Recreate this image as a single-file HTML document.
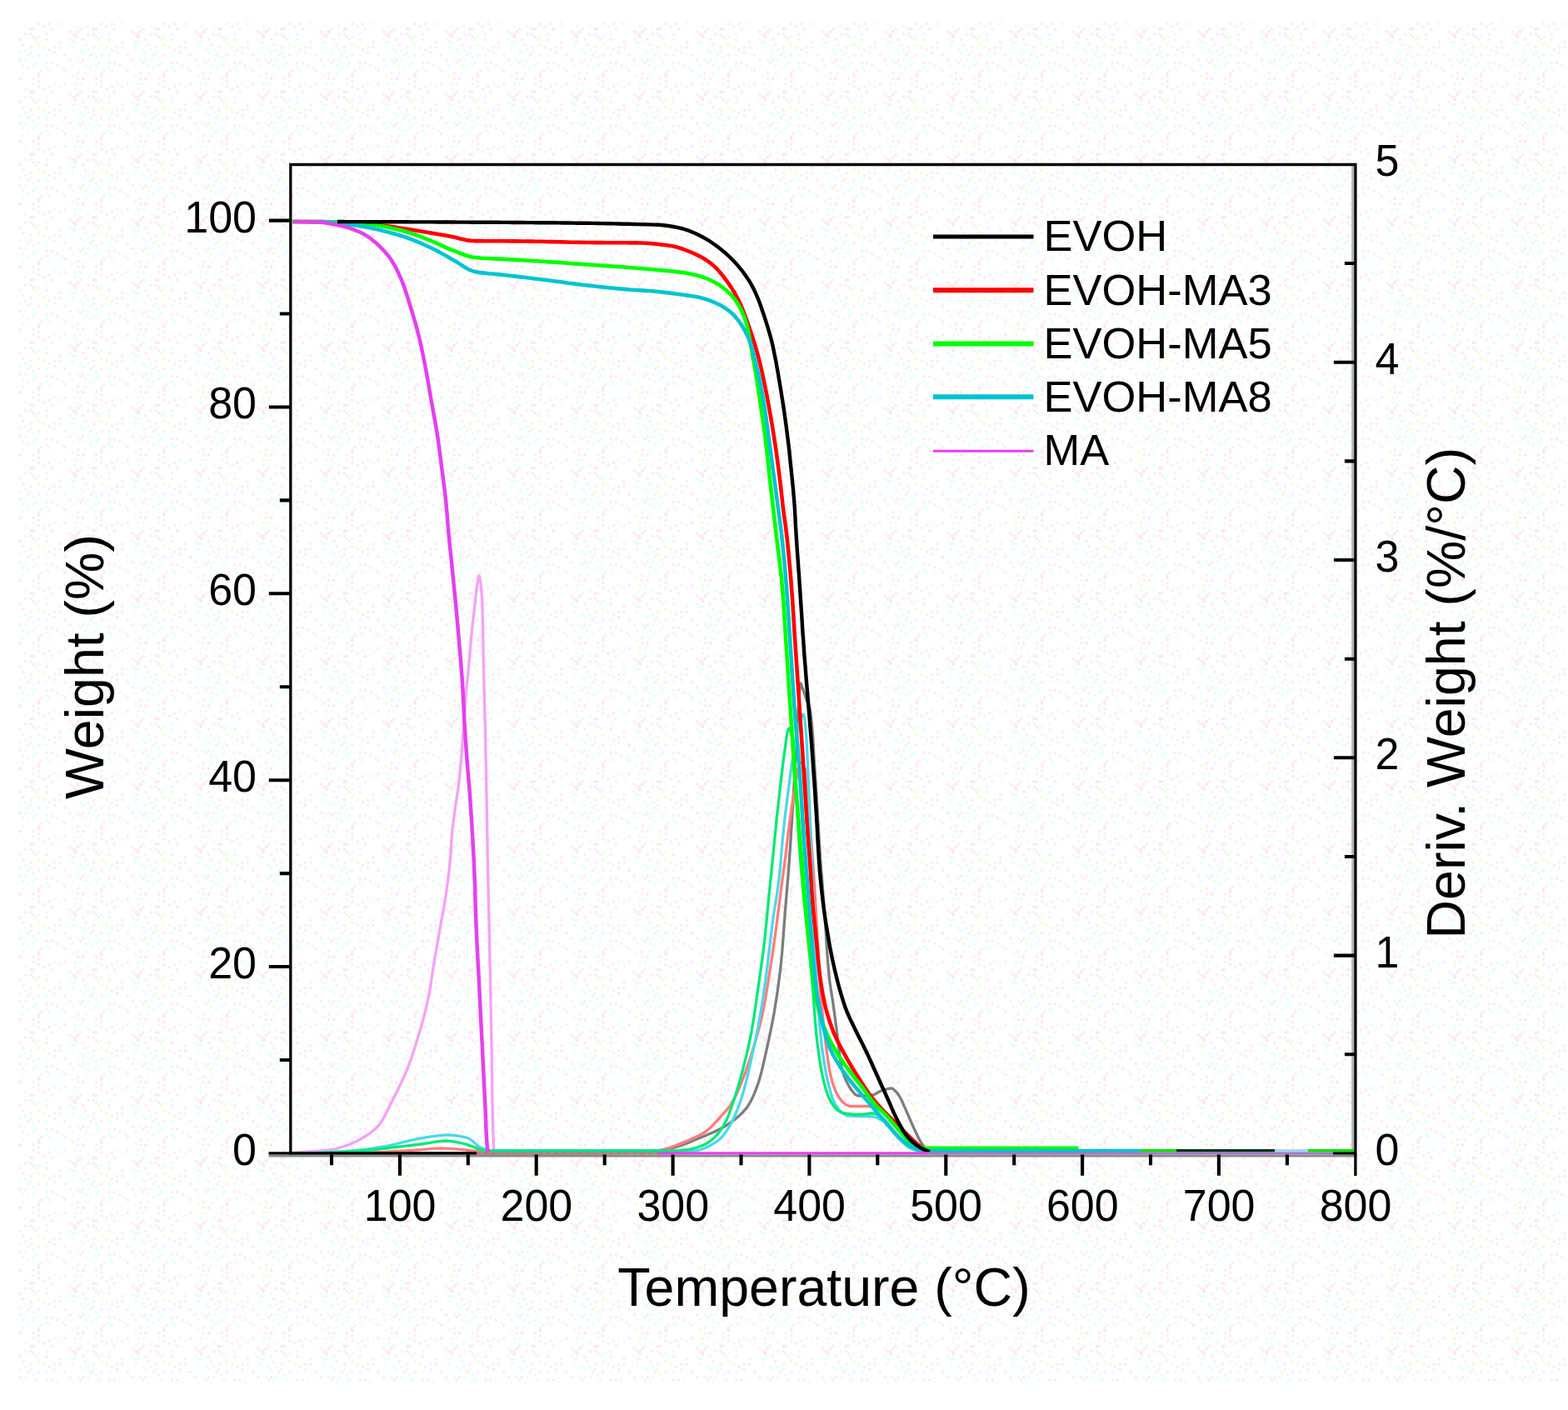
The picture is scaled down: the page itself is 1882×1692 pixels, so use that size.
<!DOCTYPE html>
<html lang="en"><head><meta charset="utf-8"><title>TGA / DTG curves</title>
<style>
html,body{margin:0;padding:0;background:#fff;}
body{width:1882px;height:1692px;overflow:hidden;}
svg{display:block;}
text{font-family:"Liberation Sans",sans-serif;fill:#000;}
.tk{font-size:52px;}
.lg{font-size:52.5px;}
.ti{font-size:64.5px;}
.c{fill:none;stroke-linejoin:round;stroke-linecap:butt;}
</style></head><body>
<svg width="1882" height="1692" viewBox="0 0 1882 1692">
<defs>
<pattern id="dots" x="23" y="27" width="75.26" height="75.26" patternUnits="userSpaceOnUse">
<rect x="15.68" y="40.77" width="3.14" height="3.14" fill="#e2ffff"/>
<rect x="62.72" y="28.22" width="3.14" height="3.14" fill="#e2ffff"/>
<rect x="18.82" y="47.04" width="3.14" height="3.14" fill="#e2ffff"/>
<rect x="15.68" y="50.18" width="3.14" height="3.14" fill="#e2ffff"/>
<rect x="21.95" y="0.00" width="3.14" height="3.14" fill="#f9eaf9"/>
<rect x="34.50" y="56.45" width="3.14" height="3.14" fill="#e2ffff"/>
<rect x="6.27" y="12.54" width="3.14" height="3.14" fill="#f9eaf9"/>
<rect x="21.95" y="68.99" width="3.14" height="3.14" fill="#f9eaf9"/>
<rect x="40.77" y="72.13" width="3.14" height="3.14" fill="#e2ffff"/>
<rect x="59.58" y="43.90" width="3.14" height="3.14" fill="#f9eaf9"/>
<rect x="31.36" y="53.31" width="3.14" height="3.14" fill="#e2ffff"/>
<rect x="68.99" y="9.41" width="3.14" height="3.14" fill="#ffe4dc"/>
<rect x="34.50" y="0.00" width="3.14" height="3.14" fill="#f9eaf9"/>
<rect x="72.13" y="6.27" width="3.14" height="3.14" fill="#f9eaf9"/>
<rect x="0.00" y="43.90" width="3.14" height="3.14" fill="#f9eaf9"/>
<rect x="53.31" y="72.13" width="3.14" height="3.14" fill="#f9eaf9"/>
<rect x="37.63" y="47.04" width="3.14" height="3.14" fill="#f9eaf9"/>
<rect x="15.68" y="65.86" width="3.14" height="3.14" fill="#f9eaf9"/>
<rect x="47.04" y="21.95" width="3.14" height="3.14" fill="#f9eaf9"/>
<rect x="18.82" y="18.82" width="3.14" height="3.14" fill="#edffd6"/>
<rect x="9.41" y="53.31" width="3.14" height="3.14" fill="#e2ffff"/>
<rect x="53.31" y="37.63" width="3.14" height="3.14" fill="#f9eaf9"/>
<rect x="31.36" y="12.54" width="3.14" height="3.14" fill="#e2ffff"/>
<rect x="40.77" y="28.22" width="3.14" height="3.14" fill="#f9eaf9"/>
<rect x="43.90" y="50.18" width="3.14" height="3.14" fill="#f9eaf9"/>
<rect x="31.36" y="47.04" width="3.14" height="3.14" fill="#f9eaf9"/>
<rect x="47.04" y="0.00" width="3.14" height="3.14" fill="#e2ffff"/>
<rect x="59.58" y="9.41" width="3.14" height="3.14" fill="#f9eaf9"/>
<rect x="65.86" y="15.68" width="3.14" height="3.14" fill="#ffe4dc"/>
<rect x="34.50" y="31.36" width="3.14" height="3.14" fill="#f9eaf9"/>
<rect x="15.68" y="6.27" width="3.14" height="3.14" fill="#f9eaf9"/>
<rect x="40.77" y="34.50" width="3.14" height="3.14" fill="#f9eaf9"/>
<rect x="65.86" y="3.14" width="3.14" height="3.14" fill="#e2ffff"/>
<rect x="65.86" y="21.95" width="3.14" height="3.14" fill="#e2ffff"/>
<rect x="15.68" y="72.13" width="3.14" height="3.14" fill="#edffd6"/>
<rect x="0.00" y="34.50" width="3.14" height="3.14" fill="#e2ffff"/>
<rect x="21.95" y="15.68" width="3.14" height="3.14" fill="#e2ffff"/>
<rect x="6.27" y="43.90" width="3.14" height="3.14" fill="#e2ffff"/>
<rect x="72.13" y="47.04" width="3.14" height="3.14" fill="#f9eaf9"/>
<rect x="28.22" y="3.14" width="3.14" height="3.14" fill="#f9eaf9"/>
<rect x="37.63" y="6.27" width="3.14" height="3.14" fill="#f9eaf9"/>
<rect x="62.72" y="12.54" width="3.14" height="3.14" fill="#f9eaf9"/>
<rect x="72.13" y="72.13" width="3.14" height="3.14" fill="#e2ffff"/>
<rect x="3.14" y="25.09" width="3.14" height="3.14" fill="#f9eaf9"/>
<rect x="62.72" y="50.18" width="3.14" height="3.14" fill="#e2ffff"/>
<rect x="0.00" y="18.82" width="3.14" height="3.14" fill="#f9eaf9"/>
<rect x="12.54" y="34.50" width="3.14" height="3.14" fill="#edffd6"/>
<rect x="47.04" y="28.22" width="3.14" height="3.14" fill="#f9eaf9"/>
<rect x="53.31" y="56.45" width="3.14" height="3.14" fill="#f9eaf9"/>
<rect x="65.86" y="12.54" width="3.14" height="3.14" fill="#f9eaf9"/>
<rect x="25.09" y="56.45" width="3.14" height="3.14" fill="#f9eaf9"/>
<rect x="62.72" y="21.95" width="3.14" height="3.14" fill="#edffd6"/>
<rect x="12.54" y="12.54" width="3.14" height="3.14" fill="#f9eaf9"/>
<rect x="9.41" y="37.63" width="3.14" height="3.14" fill="#f9eaf9"/>
<rect x="12.54" y="6.27" width="3.14" height="3.14" fill="#ffe4dc"/>
<rect x="31.36" y="37.63" width="3.14" height="3.14" fill="#e2ffff"/>
<rect x="21.95" y="59.58" width="3.14" height="3.14" fill="#f9eaf9"/>
<rect x="15.68" y="15.68" width="3.14" height="3.14" fill="#f9eaf9"/>
<rect x="3.14" y="59.58" width="3.14" height="3.14" fill="#e2ffff"/>
<rect x="68.99" y="59.58" width="3.14" height="3.14" fill="#f9eaf9"/>
<rect x="12.54" y="28.22" width="3.14" height="3.14" fill="#f9eaf9"/>
<rect x="50.18" y="53.31" width="3.14" height="3.14" fill="#e2ffff"/>
<rect x="3.14" y="50.18" width="3.14" height="3.14" fill="#edffd6"/>
<rect x="72.13" y="31.36" width="3.14" height="3.14" fill="#e2ffff"/>
<rect x="28.22" y="28.22" width="3.14" height="3.14" fill="#edffd6"/>
<rect x="31.36" y="18.82" width="3.14" height="3.14" fill="#f9eaf9"/>
<rect x="6.27" y="31.36" width="3.14" height="3.14" fill="#e2ffff"/>
<rect x="0.00" y="65.86" width="3.14" height="3.14" fill="#ffe4dc"/>
<rect x="68.99" y="43.90" width="3.14" height="3.14" fill="#e2ffff"/>
<rect x="21.95" y="25.09" width="3.14" height="3.14" fill="#edffd6"/>
<rect x="21.95" y="37.63" width="3.14" height="3.14" fill="#f9eaf9"/>
<rect x="21.95" y="62.72" width="3.14" height="3.14" fill="#ffe4dc"/>
<rect x="6.27" y="3.14" width="3.14" height="3.14" fill="#e2ffff"/>
<rect x="59.58" y="18.82" width="3.14" height="3.14" fill="#e2ffff"/>
<rect x="62.72" y="62.72" width="3.14" height="3.14" fill="#edffd6"/>
<rect x="65.86" y="72.13" width="3.14" height="3.14" fill="#edffd6"/>
<rect x="68.99" y="65.86" width="3.14" height="3.14" fill="#f9eaf9"/>
</pattern>
</defs>
<rect x="0" y="0" width="1882" height="1692" fill="#ffffff"/>
<rect x="23" y="27" width="1858" height="1632" fill="url(#dots)"/>

<path class="c" d="M349.0,1384.0 L355.0,1383.3 L360.9,1382.7 L362.5,1382.5 L366.9,1382.1 L372.9,1381.7 L378.9,1381.4 L384.9,1381.0 L390.9,1380.5 L395.0,1380.0 L396.8,1379.7 L402.7,1378.6 L408.5,1377.0 L414.3,1375.1 L417.5,1374.0 L419.9,1373.1 L425.4,1370.7 L430.8,1368.0 L436.1,1365.0 L440.0,1362.5 L441.1,1361.8 L446.1,1358.3 L450.8,1354.4 L454.9,1350.2 L455.0,1350.0 L458.2,1345.4 L461.2,1340.2 L463.9,1334.7 L466.6,1329.2 L467.5,1327.5 L469.4,1323.9 L472.1,1318.6 L474.8,1313.2 L477.5,1307.8 L480.0,1302.5 L480.1,1302.4 L482.6,1297.0 L485.1,1291.5 L487.6,1286.0 L489.8,1280.5 L490.0,1280.0 L491.9,1274.8 L493.9,1269.2 L495.8,1263.5 L497.6,1257.7 L499.4,1252.0 L500.0,1250.0 L501.2,1246.3 L503.0,1240.5 L504.7,1234.8 L506.4,1229.0 L507.5,1225.0 L508.0,1223.2 L509.4,1217.4 L510.9,1211.6 L512.2,1205.7 L513.5,1199.9 L514.7,1194.0 L515.0,1192.5 L515.8,1188.1 L516.8,1182.2 L517.7,1176.3 L518.6,1170.3 L519.5,1164.4 L520.4,1158.4 L521.0,1155.0 L521.4,1152.5 L522.4,1146.6 L523.4,1140.7 L524.5,1134.8 L525.5,1128.9 L526.5,1122.9 L527.5,1117.5 L527.6,1117.0 L528.6,1111.1 L529.7,1105.2 L530.8,1099.3 L531.9,1093.4 L533.0,1087.5 L534.0,1081.6 L534.9,1075.7 L535.0,1075.0 L535.8,1069.7 L536.6,1063.8 L537.4,1057.8 L538.2,1051.9 L538.9,1045.9 L539.6,1039.9 L540.1,1034.0 L540.5,1030.0 L540.7,1028.0 L541.1,1022.0 L541.4,1016.0 L541.8,1010.0 L542.2,1004.0 L542.5,1000.0 L542.7,998.0 L543.3,992.1 L544.1,986.1 L544.9,980.2 L545.7,974.2 L546.0,972.0 L546.5,968.3 L547.4,962.3 L548.3,956.4 L549.2,950.5 L550.1,944.5 L550.8,938.6 L551.0,937.0 L551.5,932.6 L552.1,926.6 L552.6,920.7 L553.2,914.7 L553.7,908.7 L554.2,902.7 L554.6,896.7 L555.0,892.0 L555.1,890.7 L555.5,884.8 L556.0,878.8 L556.4,872.8 L556.8,866.8 L557.1,860.8 L557.5,854.8 L557.9,848.8 L558.4,842.8 L558.8,836.8 L559.0,835.0 L559.4,830.9 L559.9,824.9 L560.6,818.9 L561.2,813.0 L561.8,807.0 L562.4,801.0 L562.5,800.0 L563.0,795.0 L563.5,789.1 L564.0,783.1 L564.5,777.1 L565.0,771.1 L565.5,765.1 L566.0,760.0 L566.1,759.2 L566.7,753.2 L567.4,747.2 L568.1,741.3 L568.8,735.3 L569.5,729.3 L570.0,725.0 L570.2,723.4 L570.8,717.4 L571.5,711.4 L572.2,705.5 L573.0,700.0 L573.1,699.5 L574.4,692.4 L575.0,691.0 L575.8,692.8 L577.0,700.0 L577.0,700.0 L577.6,706.0 L578.1,712.0 L578.5,718.0 L578.8,724.0 L579.0,730.0 L579.0,730.0 L579.2,736.0 L579.3,742.0 L579.5,748.0 L579.6,754.0 L579.7,760.0 L579.8,766.0 L579.9,772.0 L580.0,778.0 L580.1,784.0 L580.2,790.0 L580.3,796.0 L580.4,802.0 L580.5,805.0 L580.6,808.0 L580.7,814.0 L580.9,820.0 L581.0,826.0 L581.2,832.0 L581.4,838.0 L581.5,844.0 L581.7,850.0 L581.9,856.0 L582.0,862.0 L582.2,868.0 L582.4,874.0 L582.5,880.0 L582.5,880.0 L582.6,886.0 L582.8,892.0 L582.9,898.0 L583.0,904.0 L583.1,910.0 L583.3,916.0 L583.4,922.0 L583.5,928.0 L583.6,934.0 L583.7,940.0 L583.8,946.0 L583.9,952.0 L584.0,955.0 L584.1,958.0 L584.2,964.0 L584.3,970.0 L584.4,976.0 L584.5,982.0 L584.6,988.0 L584.7,994.0 L584.8,1000.0 L584.9,1006.0 L585.0,1012.0 L585.1,1018.0 L585.2,1024.0 L585.3,1030.0 L585.4,1036.0 L585.5,1040.0 L585.5,1042.0 L585.7,1048.1 L585.8,1054.1 L585.9,1060.1 L586.1,1066.1 L586.2,1072.1 L586.3,1078.1 L586.5,1084.1 L586.6,1090.1 L586.7,1096.1 L586.9,1102.1 L587.0,1108.1 L587.2,1114.1 L587.3,1120.1 L587.4,1126.1 L587.5,1130.0 L587.5,1132.1 L587.7,1138.1 L587.8,1144.1 L587.9,1150.1 L588.0,1156.1 L588.2,1162.1 L588.3,1168.1 L588.4,1174.1 L588.5,1180.1 L588.6,1186.1 L588.8,1192.1 L588.9,1198.1 L589.0,1204.1 L589.1,1210.1 L589.2,1216.1 L589.3,1222.1 L589.5,1228.1 L589.6,1234.1 L589.7,1240.1 L589.8,1246.1 L589.9,1252.1 L590.0,1255.0 L590.1,1258.1 L590.2,1264.1 L590.3,1270.1 L590.4,1276.1 L590.4,1282.1 L590.5,1288.2 L590.6,1294.2 L590.6,1300.2 L590.7,1306.2 L590.8,1312.2 L590.9,1318.2 L591.0,1324.3 L591.1,1330.3 L591.2,1336.3 L591.3,1342.3 L591.5,1348.3 L591.7,1354.2 L591.9,1360.2 L592.1,1366.2 L592.4,1372.1 L592.5,1375.0 L592.8,1378.1 L594.0,1384.0" stroke="#f5a2f5" stroke-width="3.4"/>
<path class="c" d="M349.0,1384.0 L355.0,1384.0 L361.0,1384.0 L367.1,1384.0 L373.1,1384.0 L379.1,1384.0 L385.1,1384.0 L391.1,1384.0 L397.2,1384.0 L403.2,1384.0 L409.2,1384.0 L415.2,1384.0 L421.3,1384.0 L427.3,1384.0 L433.3,1384.0 L439.3,1384.0 L445.3,1384.0 L451.4,1384.0 L457.4,1384.0 L463.4,1384.0 L469.4,1384.0 L475.4,1384.0 L481.5,1384.0 L487.5,1384.0 L493.5,1384.0 L499.5,1384.0 L505.5,1384.0 L511.6,1384.0 L517.6,1384.0 L523.6,1384.0 L529.6,1384.0 L535.6,1384.0 L541.7,1384.0 L547.7,1384.0 L553.7,1384.0 L559.7,1384.0 L565.7,1384.0 L571.8,1384.0 L577.8,1384.0 L583.8,1384.0 L589.8,1384.0 L595.8,1384.0 L601.9,1384.0 L607.9,1384.0 L613.9,1384.0 L619.9,1384.0 L625.9,1384.0 L632.0,1384.0 L638.0,1384.0 L644.0,1384.0 L650.0,1384.0 L656.0,1384.0 L662.1,1384.0 L668.1,1384.0 L674.1,1384.0 L680.1,1384.0 L686.1,1384.0 L692.2,1384.0 L698.2,1384.0 L700.0,1384.0 L704.2,1384.0 L710.2,1384.0 L716.3,1383.9 L722.3,1383.9 L728.4,1383.8 L734.4,1383.7 L740.5,1383.6 L746.5,1383.5 L752.6,1383.4 L758.6,1383.2 L764.6,1383.0 L770.6,1382.8 L776.6,1382.6 L782.6,1382.4 L788.5,1382.1 L790.0,1382.0 L794.4,1381.5 L800.3,1380.1 L806.1,1378.2 L810.0,1377.0 L811.8,1376.4 L817.5,1374.5 L823.2,1372.4 L828.8,1370.1 L834.3,1367.8 L835.0,1367.5 L839.9,1365.5 L845.5,1363.2 L851.2,1360.8 L856.7,1358.4 L862.2,1355.8 L867.5,1353.0 L872.5,1350.0 L872.5,1350.0 L877.5,1346.6 L882.4,1342.9 L887.2,1338.9 L891.6,1334.7 L895.5,1330.2 L897.5,1327.5 L898.8,1325.5 L901.7,1320.4 L904.3,1314.9 L906.7,1309.2 L908.8,1303.4 L910.0,1300.0 L910.7,1297.7 L912.4,1292.0 L914.0,1286.2 L915.4,1280.3 L916.8,1274.4 L918.1,1268.5 L919.4,1262.6 L920.0,1260.0 L920.7,1256.8 L922.0,1250.9 L923.3,1245.0 L924.5,1239.1 L925.7,1233.2 L926.9,1227.3 L928.0,1221.4 L929.1,1215.5 L930.0,1210.0 L930.1,1209.5 L931.0,1203.6 L932.0,1197.6 L932.9,1191.7 L933.7,1185.7 L934.5,1179.7 L935.3,1173.8 L936.1,1167.8 L936.8,1161.8 L937.4,1155.8 L937.5,1155.0 L938.0,1149.8 L938.6,1143.9 L939.1,1137.9 L939.5,1131.9 L940.0,1125.9 L940.5,1119.9 L940.9,1113.8 L941.3,1107.8 L941.8,1101.8 L942.2,1095.8 L942.5,1092.5 L942.7,1089.8 L943.2,1083.8 L943.7,1077.8 L944.2,1071.8 L944.7,1065.8 L945.2,1059.8 L945.7,1053.8 L946.2,1047.8 L946.6,1041.8 L947.1,1035.8 L947.5,1030.0 L947.5,1029.8 L947.9,1023.8 L948.4,1017.8 L948.8,1011.8 L949.2,1005.8 L949.5,999.8 L949.9,993.8 L950.3,987.8 L950.7,981.8 L951.0,975.7 L951.4,969.7 L951.8,963.7 L952.0,960.0 L952.1,957.7 L952.5,951.7 L952.8,945.7 L953.2,939.7 L953.5,933.7 L953.9,927.7 L954.2,921.7 L954.5,915.6 L954.9,909.6 L955.2,903.6 L955.6,897.6 L955.9,891.6 L956.0,890.0 L956.3,885.6 L956.6,879.6 L956.9,873.6 L957.2,867.6 L957.6,861.5 L957.9,855.5 L958.3,849.5 L958.7,843.5 L959.0,840.0 L959.2,837.3 L959.6,829.5 L960.2,822.6 L961.0,820.0 L961.1,820.0 L963.2,825.7 L964.0,828.0 L965.3,831.7 L967.1,837.5 L968.0,840.0 L969.3,843.1 L971.7,848.7 L972.0,850.0 L972.7,854.4 L973.5,860.3 L974.1,866.2 L974.7,872.1 L975.2,878.1 L975.7,884.2 L976.0,890.2 L976.4,896.3 L976.7,902.4 L977.0,908.5 L977.4,914.5 L977.8,920.6 L978.0,924.0 L978.2,926.6 L978.6,932.6 L979.0,938.6 L979.4,944.6 L979.8,950.6 L980.1,956.6 L980.5,962.6 L980.8,968.7 L981.2,974.7 L981.5,980.7 L981.9,986.7 L982.3,992.7 L982.6,998.7 L983.0,1004.7 L983.4,1010.7 L983.8,1016.7 L984.0,1020.0 L984.2,1022.7 L984.6,1028.7 L985.0,1034.7 L985.5,1040.8 L985.9,1046.8 L986.4,1052.8 L986.9,1058.8 L987.3,1064.8 L987.8,1070.8 L988.2,1076.8 L988.7,1082.8 L989.2,1088.8 L989.6,1094.8 L990.0,1100.0 L990.1,1100.8 L990.5,1106.8 L990.9,1112.8 L991.3,1118.8 L991.6,1124.8 L992.0,1130.8 L992.4,1136.8 L992.8,1142.9 L993.2,1148.9 L993.7,1154.9 L994.2,1160.9 L994.7,1166.8 L995.0,1170.0 L995.3,1172.8 L996.0,1178.8 L996.9,1184.8 L997.8,1190.7 L998.8,1196.7 L999.7,1202.6 L1000.0,1205.0 L1000.5,1208.6 L1001.3,1214.5 L1002.1,1220.5 L1002.9,1226.5 L1003.7,1232.5 L1004.5,1238.4 L1005.0,1242.5 L1005.2,1244.4 L1006.0,1250.4 L1006.6,1256.4 L1007.3,1262.5 L1008.1,1268.5 L1008.9,1274.4 L1010.0,1280.0 L1010.0,1280.2 L1011.5,1286.0 L1013.5,1291.9 L1015.9,1297.6 L1018.7,1302.8 L1020.0,1305.0 L1021.9,1308.0 L1026.2,1313.2 L1030.0,1315.0 L1031.1,1315.0 L1036.9,1314.8 L1043.3,1314.4 L1047.5,1314.0 L1049.2,1313.6 L1054.5,1310.5 L1057.5,1309.0 L1060.1,1308.2 L1066.1,1306.5 L1070.0,1306.0 L1071.6,1306.4 L1076.2,1310.8 L1077.5,1312.5 L1079.6,1315.6 L1082.4,1320.9 L1084.9,1326.6 L1087.4,1332.2 L1087.5,1332.5 L1089.8,1337.7 L1092.2,1343.2 L1094.6,1348.7 L1097.1,1354.2 L1097.5,1355.0 L1099.7,1359.7 L1102.3,1365.3 L1105.2,1370.6 L1107.5,1374.0 L1108.6,1375.4 L1112.8,1380.2 L1116.0,1382.0 L1117.8,1382.5 L1123.5,1383.6 L1130.0,1384.0" stroke="#7d7d7d" stroke-width="3.3"/>
<path class="c" d="M349.0,1384.0 L355.0,1384.0 L361.0,1384.0 L367.0,1384.0 L373.0,1383.9 L379.0,1383.9 L385.0,1383.8 L391.0,1383.8 L397.0,1383.7 L403.0,1383.6 L409.0,1383.5 L415.0,1383.4 L421.0,1383.3 L427.0,1383.2 L433.0,1383.1 L439.0,1383.0 L440.0,1383.0 L445.0,1382.9 L451.0,1382.7 L457.0,1382.4 L463.0,1382.2 L469.0,1381.8 L475.0,1381.5 L481.0,1381.1 L487.0,1380.8 L493.0,1380.4 L499.0,1380.1 L500.0,1380.0 L505.0,1379.7 L511.0,1379.1 L516.9,1378.6 L522.9,1378.2 L528.9,1378.0 L530.0,1378.0 L534.9,1378.1 L540.9,1378.4 L546.9,1378.8 L552.9,1379.4 L558.9,1379.9 L560.0,1380.0 L564.8,1380.6 L570.8,1381.5 L576.7,1382.4 L582.7,1382.9 L585.0,1383.0 L588.7,1383.0 L594.7,1383.1 L600.7,1383.1 L606.6,1383.2 L612.6,1383.2 L618.6,1383.3 L624.6,1383.3 L630.6,1383.3 L636.6,1383.4 L642.7,1383.4 L648.7,1383.4 L654.7,1383.4 L660.7,1383.5 L666.7,1383.5 L672.7,1383.5 L678.7,1383.5 L684.7,1383.5 L690.7,1383.5 L696.7,1383.5 L700.0,1383.5 L702.7,1383.5 L708.7,1383.5 L714.8,1383.5 L720.8,1383.4 L726.8,1383.4 L732.8,1383.3 L738.8,1383.2 L744.8,1383.1 L750.9,1382.9 L756.9,1382.8 L762.8,1382.6 L768.8,1382.4 L774.8,1382.2 L780.0,1382.0 L780.7,1382.0 L786.7,1381.3 L792.6,1380.1 L797.5,1379.0 L798.5,1378.8 L804.2,1377.1 L809.9,1375.1 L815.5,1372.9 L821.1,1370.6 L822.5,1370.0 L826.6,1368.3 L832.2,1365.8 L837.7,1363.2 L843.0,1360.4 L847.5,1357.5 L847.9,1357.2 L852.4,1353.5 L856.7,1349.2 L860.8,1344.7 L864.8,1340.2 L865.0,1340.0 L868.9,1335.7 L872.9,1331.2 L876.6,1326.4 L877.5,1325.0 L879.6,1321.4 L882.4,1316.2 L885.0,1310.7 L887.4,1305.2 L889.7,1299.5 L891.9,1293.9 L892.5,1292.5 L894.1,1288.3 L896.1,1282.7 L898.1,1277.0 L900.0,1271.3 L901.8,1265.6 L903.6,1259.8 L905.0,1255.0 L905.3,1254.1 L907.0,1248.3 L908.6,1242.6 L910.2,1236.8 L911.8,1231.0 L913.3,1225.1 L914.6,1219.3 L915.0,1217.5 L915.8,1213.4 L917.0,1207.6 L918.1,1201.7 L919.1,1195.7 L920.1,1189.8 L921.1,1183.9 L922.0,1177.9 L922.5,1175.0 L923.0,1172.0 L923.9,1166.1 L924.8,1160.2 L925.8,1154.2 L926.6,1148.3 L927.5,1142.4 L928.4,1136.4 L929.2,1130.5 L930.0,1125.0 L930.1,1124.5 L930.9,1118.6 L931.7,1112.6 L932.5,1106.7 L933.2,1100.7 L934.0,1094.8 L934.8,1088.8 L935.5,1082.9 L936.3,1076.9 L937.0,1071.0 L937.5,1067.5 L937.8,1065.0 L938.6,1059.1 L939.4,1053.1 L940.2,1047.2 L941.0,1041.2 L941.8,1035.3 L942.5,1030.0 L942.6,1029.3 L943.3,1023.4 L944.0,1017.4 L944.7,1011.4 L945.4,1005.5 L946.1,999.5 L946.9,993.6 L947.6,987.6 L948.0,985.0 L948.5,981.7 L949.3,975.7 L950.1,969.8 L951.0,963.8 L951.9,957.9 L952.9,951.9 L953.9,946.0 L955.0,940.1 L955.0,940.0 L956.1,933.3 L957.2,925.6 L958.6,918.9 L960.4,915.2 L961.0,915.0 L963.6,917.4 L966.0,922.0 L966.3,923.4 L967.3,928.9 L968.1,934.8 L968.6,940.9 L969.1,947.1 L969.5,953.3 L969.9,959.4 L970.0,960.0 L970.5,965.3 L970.9,971.3 L971.4,977.3 L971.8,983.3 L972.2,989.3 L972.7,995.3 L973.0,1000.0 L973.1,1001.3 L973.6,1007.2 L974.0,1013.2 L974.5,1019.2 L974.9,1025.2 L975.4,1031.2 L975.8,1037.2 L976.0,1040.0 L976.2,1043.2 L976.6,1049.1 L977.0,1055.1 L977.4,1061.1 L977.8,1067.1 L978.1,1073.1 L978.5,1079.1 L978.8,1085.1 L979.2,1091.1 L979.5,1097.1 L979.9,1103.1 L980.0,1105.0 L980.2,1109.1 L980.5,1115.1 L980.9,1121.0 L981.1,1127.0 L981.4,1133.0 L981.7,1139.0 L982.0,1145.0 L982.3,1151.0 L982.6,1157.0 L982.9,1163.0 L983.3,1169.0 L983.7,1175.0 L984.0,1180.0 L984.1,1181.0 L984.5,1187.0 L985.0,1193.0 L985.5,1198.9 L986.0,1204.9 L986.6,1210.9 L987.2,1216.9 L987.8,1222.8 L988.4,1228.8 L989.1,1234.8 L989.8,1240.7 L990.0,1242.5 L990.5,1246.7 L991.2,1252.7 L991.9,1258.7 L992.7,1264.7 L993.5,1270.7 L994.4,1276.6 L995.4,1282.5 L996.6,1288.4 L997.5,1292.5 L997.9,1294.1 L999.5,1300.0 L1001.6,1306.0 L1004.0,1311.6 L1006.9,1316.6 L1007.5,1317.5 L1010.5,1321.4 L1015.4,1325.8 L1020.0,1327.5 L1020.7,1327.5 L1026.4,1327.5 L1032.5,1327.5 L1038.7,1327.5 L1042.5,1327.5 L1044.8,1327.6 L1050.8,1328.7 L1055.0,1330.0 L1056.3,1330.5 L1061.2,1333.9 L1065.7,1338.2 L1067.5,1340.0 L1070.0,1342.5 L1073.9,1347.0 L1077.7,1351.7 L1081.5,1356.3 L1082.5,1357.5 L1085.3,1361.0 L1089.1,1365.9 L1092.9,1370.6 L1097.1,1374.7 L1097.5,1375.0 L1101.9,1378.2 L1107.3,1381.2 L1110.0,1382.0 L1112.9,1382.6 L1118.8,1383.6 L1125.0,1384.0" stroke="#ff7c7c" stroke-width="3.3"/>
<path class="c" d="M349.0,1384.0 L355.0,1384.0 L361.0,1383.9 L367.1,1383.7 L373.1,1383.6 L379.1,1383.3 L385.1,1383.1 L391.1,1382.8 L397.1,1382.4 L403.1,1382.1 L409.1,1381.7 L415.0,1381.3 L420.0,1381.0 L421.0,1380.9 L427.0,1380.4 L433.0,1379.8 L439.0,1379.1 L444.9,1378.3 L450.9,1377.4 L456.8,1376.5 L460.0,1376.0 L462.7,1375.5 L468.6,1374.4 L474.5,1373.0 L480.3,1371.5 L486.1,1370.1 L492.0,1368.6 L497.9,1367.3 L503.7,1366.2 L505.0,1366.0 L509.7,1365.2 L515.6,1364.2 L521.6,1363.3 L527.6,1362.6 L533.6,1362.1 L537.5,1362.0 L539.5,1362.0 L545.7,1362.5 L551.8,1363.4 L557.7,1364.7 L562.5,1366.0 L563.1,1366.2 L567.8,1369.7 L572.3,1374.2 L575.0,1376.0 L577.4,1377.2 L583.1,1379.6 L589.0,1380.9 L590.0,1381.0 L594.8,1381.2 L600.7,1381.4 L606.7,1381.5 L612.7,1381.7 L618.7,1381.8 L624.8,1381.9 L630.9,1381.9 L636.9,1382.0 L643.0,1382.0 L649.0,1382.0 L650.0,1382.0 L655.0,1382.0 L661.1,1382.0 L667.1,1382.0 L673.2,1382.0 L679.2,1382.0 L685.3,1382.0 L691.4,1382.0 L697.5,1382.0 L703.6,1382.0 L709.6,1382.0 L715.7,1382.0 L721.8,1381.9 L727.9,1381.9 L734.0,1381.9 L740.1,1381.9 L746.1,1381.9 L752.2,1381.9 L758.2,1381.9 L764.3,1381.8 L770.3,1381.8 L776.3,1381.8 L782.3,1381.8 L788.2,1381.7 L794.2,1381.7 L800.1,1381.7 L806.0,1381.7 L811.9,1381.6 L817.7,1381.6 L823.5,1381.5 L829.3,1381.5 L830.0,1381.5 L835.1,1381.0 L841.1,1379.5 L847.0,1377.2 L852.6,1374.4 L857.8,1371.4 L860.0,1370.0 L862.4,1368.2 L866.7,1364.1 L870.6,1359.2 L874.0,1354.1 L875.0,1352.5 L877.0,1349.0 L879.8,1343.7 L882.3,1338.2 L884.6,1332.6 L886.8,1326.9 L888.8,1321.2 L890.0,1317.5 L890.6,1315.5 L892.4,1309.8 L894.0,1304.0 L895.5,1298.2 L896.9,1292.3 L898.3,1286.5 L899.6,1280.6 L900.9,1274.7 L902.2,1268.8 L902.5,1267.5 L903.5,1263.0 L904.8,1257.1 L906.0,1251.2 L907.2,1245.3 L908.4,1239.4 L909.6,1233.5 L910.7,1227.6 L911.8,1221.7 L912.5,1217.5 L912.8,1215.8 L913.8,1209.9 L914.7,1204.0 L915.7,1198.0 L916.5,1192.1 L917.4,1186.1 L918.3,1180.2 L919.1,1174.2 L919.9,1168.3 L920.0,1167.5 L920.7,1162.3 L921.4,1156.4 L922.1,1150.4 L922.8,1144.4 L923.5,1138.5 L924.2,1132.5 L924.9,1126.5 L925.6,1120.5 L926.3,1114.6 L927.0,1108.6 L927.5,1105.0 L927.8,1102.7 L928.7,1096.7 L929.6,1090.8 L930.6,1084.9 L931.6,1078.9 L932.5,1073.0 L933.4,1067.0 L934.2,1061.1 L935.0,1055.1 L935.0,1055.0 L935.6,1049.2 L936.2,1043.2 L936.8,1037.2 L937.3,1031.2 L937.8,1025.2 L938.2,1019.3 L938.8,1013.3 L939.3,1007.3 L939.9,1001.3 L940.0,1000.0 L940.5,995.3 L941.2,989.4 L941.8,983.4 L942.5,977.4 L943.3,971.5 L944.0,965.5 L944.8,959.5 L945.5,953.6 L946.0,950.0 L946.3,947.6 L947.1,941.7 L947.8,935.7 L948.6,929.7 L949.4,923.8 L950.3,917.8 L951.1,911.9 L952.0,905.9 L953.0,900.0 L953.0,900.0 L954.0,894.1 L954.9,888.1 L955.9,882.1 L957.1,876.2 L958.5,870.3 L960.0,865.0 L960.1,864.7 L963.0,858.1 L964.0,857.0 L964.8,858.1 L965.9,864.1 L966.7,871.8 L967.0,875.0 L967.3,878.2 L967.7,884.1 L968.1,890.1 L968.5,896.1 L968.8,902.1 L969.0,908.1 L969.3,914.1 L969.6,920.1 L969.8,926.2 L970.0,930.0 L970.1,932.2 L970.4,938.2 L970.7,944.2 L970.9,950.2 L971.2,956.2 L971.5,962.2 L971.7,968.2 L972.0,974.2 L972.2,980.2 L972.4,986.2 L972.7,992.2 L972.9,998.2 L973.0,1000.0 L973.2,1004.2 L973.4,1010.2 L973.6,1016.2 L973.9,1022.2 L974.1,1028.2 L974.3,1034.2 L974.5,1040.2 L974.7,1046.2 L975.0,1052.2 L975.2,1058.2 L975.4,1064.2 L975.6,1070.2 L975.9,1076.2 L976.0,1080.0 L976.1,1082.2 L976.3,1088.2 L976.5,1094.2 L976.8,1100.2 L977.0,1106.2 L977.2,1112.2 L977.4,1118.3 L977.7,1124.3 L977.9,1130.3 L978.1,1136.3 L978.4,1142.3 L978.7,1148.3 L979.0,1154.3 L979.0,1155.0 L979.3,1160.3 L979.6,1166.3 L979.9,1172.3 L980.2,1178.3 L980.6,1184.3 L980.9,1190.3 L981.3,1196.3 L981.7,1202.3 L982.1,1208.3 L982.6,1214.3 L983.0,1220.3 L983.5,1226.2 L984.0,1232.2 L984.6,1238.2 L985.0,1242.5 L985.2,1244.2 L985.8,1250.1 L986.5,1256.1 L987.3,1262.1 L988.2,1268.1 L989.1,1274.0 L990.1,1279.9 L991.2,1285.8 L992.3,1291.7 L992.5,1292.5 L993.6,1297.6 L995.0,1303.7 L996.6,1309.7 L998.4,1315.6 L1000.5,1321.0 L1002.5,1325.0 L1003.1,1326.0 L1006.7,1331.3 L1011.4,1336.1 L1016.4,1338.8 L1017.5,1339.0 L1021.7,1339.2 L1027.6,1339.4 L1033.9,1339.5 L1040.2,1339.7 L1046.3,1339.9 L1047.5,1340.0 L1052.1,1341.0 L1057.7,1343.7 L1060.0,1345.0 L1062.5,1346.8 L1066.5,1351.1 L1070.2,1356.0 L1074.0,1361.1 L1077.5,1365.0 L1078.0,1365.5 L1082.4,1369.9 L1087.0,1374.1 L1091.9,1377.6 L1095.0,1379.0 L1097.1,1379.7 L1102.7,1381.3 L1108.7,1382.5 L1115.0,1383.0" stroke="#4cd8e8" stroke-width="3.3"/>
<path class="c" d="M349.0,1384.0 L355.0,1384.0 L361.1,1383.9 L367.1,1383.8 L373.1,1383.7 L379.1,1383.6 L385.2,1383.4 L391.2,1383.2 L397.2,1383.0 L403.2,1382.7 L409.2,1382.5 L415.2,1382.2 L420.0,1382.0 L421.2,1381.9 L427.2,1381.6 L433.2,1381.1 L439.2,1380.6 L445.2,1380.0 L451.2,1379.4 L457.2,1378.7 L463.2,1378.0 L469.2,1377.2 L475.1,1376.5 L480.0,1376.0 L481.1,1375.9 L487.1,1375.2 L493.1,1374.5 L499.1,1373.7 L505.0,1373.0 L505.0,1373.0 L511.0,1372.1 L517.0,1371.1 L523.0,1370.1 L528.9,1369.3 L534.9,1369.0 L535.0,1369.0 L540.9,1369.4 L546.9,1370.3 L552.8,1371.5 L555.0,1372.0 L558.6,1372.9 L564.3,1374.9 L567.5,1376.0 L570.0,1377.0 L575.6,1379.5 L580.0,1380.5 L581.4,1380.6 L587.3,1380.8 L593.4,1380.9 L599.5,1381.0 L600.0,1381.0 L605.5,1381.0 L611.5,1381.0 L617.5,1381.0 L623.6,1381.0 L629.6,1381.0 L635.6,1381.0 L641.6,1381.0 L647.6,1381.0 L653.7,1381.0 L659.7,1381.0 L665.7,1381.0 L671.7,1381.0 L677.7,1381.0 L683.8,1381.0 L689.8,1381.0 L695.8,1381.0 L700.0,1381.0 L701.8,1381.0 L707.9,1381.0 L713.9,1381.0 L719.9,1381.0 L725.9,1381.0 L731.9,1381.0 L738.0,1381.0 L744.0,1381.0 L750.0,1381.0 L756.0,1381.0 L762.1,1381.0 L768.1,1381.0 L774.1,1381.0 L780.1,1381.0 L786.1,1381.0 L792.2,1381.0 L798.2,1381.0 L800.0,1381.0 L804.2,1381.0 L810.3,1380.8 L816.3,1380.4 L822.2,1380.0 L822.5,1380.0 L828.2,1379.2 L834.3,1377.7 L840.1,1375.7 L845.6,1373.4 L847.5,1372.5 L850.5,1370.7 L855.3,1367.1 L859.8,1362.6 L863.8,1357.8 L867.3,1352.9 L867.5,1352.5 L870.1,1347.9 L872.7,1342.5 L875.0,1336.8 L877.1,1331.0 L879.1,1325.2 L880.0,1322.5 L881.0,1319.5 L882.9,1313.8 L884.7,1308.1 L886.4,1302.3 L888.1,1296.5 L889.7,1290.7 L891.3,1284.8 L892.5,1280.0 L892.7,1279.0 L894.2,1273.2 L895.6,1267.3 L897.0,1261.5 L898.3,1255.6 L899.6,1249.7 L900.8,1243.8 L902.0,1237.9 L902.5,1235.0 L903.0,1232.0 L904.0,1226.0 L905.0,1220.1 L905.9,1214.1 L906.7,1208.2 L907.6,1202.2 L908.4,1196.2 L909.3,1190.3 L910.0,1185.0 L910.1,1184.3 L911.0,1178.4 L911.8,1172.4 L912.7,1166.4 L913.5,1160.5 L914.4,1154.5 L915.2,1148.5 L916.0,1142.6 L916.7,1136.6 L917.4,1130.6 L917.5,1130.0 L918.1,1124.6 L918.7,1118.7 L919.3,1112.7 L919.9,1106.7 L920.5,1100.7 L921.1,1094.7 L921.7,1088.7 L922.2,1082.7 L922.5,1080.0 L922.8,1076.7 L923.4,1070.7 L924.0,1064.7 L924.6,1058.7 L925.2,1052.7 L925.8,1046.7 L926.4,1040.8 L927.0,1034.8 L927.5,1030.0 L927.6,1028.8 L928.2,1022.8 L928.8,1016.8 L929.4,1010.8 L930.0,1004.8 L930.6,998.8 L931.2,992.8 L931.8,986.8 L932.0,985.0 L932.4,980.8 L933.1,974.9 L933.7,968.9 L934.4,962.9 L935.1,956.9 L935.7,950.9 L936.4,944.9 L937.0,940.0 L937.1,939.0 L937.8,933.0 L938.5,927.0 L939.2,921.0 L939.9,915.0 L940.7,909.1 L941.5,903.1 L942.0,900.0 L942.4,896.9 L943.4,889.3 L944.5,881.7 L945.7,876.0 L947.0,874.0 L947.1,874.0 L949.4,878.9 L951.0,885.0 L951.1,885.8 L951.9,891.6 L952.5,897.6 L953.0,903.6 L953.4,909.6 L953.7,915.6 L954.0,921.7 L954.3,927.8 L954.6,933.8 L955.0,939.9 L955.0,940.0 L955.4,945.9 L955.7,951.9 L956.1,957.9 L956.4,963.9 L956.7,969.9 L957.0,975.9 L957.3,982.0 L957.7,988.0 L958.0,994.0 L958.4,1000.0 L958.7,1006.0 L959.0,1010.0 L959.1,1012.0 L959.6,1018.0 L960.0,1024.0 L960.5,1030.0 L960.9,1036.0 L961.4,1042.0 L962.0,1048.0 L962.5,1054.0 L963.0,1060.0 L963.0,1060.0 L963.6,1066.0 L964.1,1072.0 L964.7,1078.0 L965.3,1084.0 L966.0,1090.0 L966.6,1096.0 L967.2,1102.0 L967.5,1105.0 L967.8,1108.0 L968.4,1113.9 L969.0,1119.9 L969.6,1125.9 L970.3,1131.9 L970.9,1137.9 L971.5,1143.9 L972.1,1149.9 L972.7,1155.9 L973.3,1161.9 L973.9,1167.9 L974.4,1173.9 L975.0,1179.9 L975.0,1180.0 L975.5,1185.9 L976.0,1191.9 L976.4,1197.9 L976.8,1203.9 L977.3,1209.9 L977.7,1215.9 L978.2,1221.9 L978.6,1227.9 L979.2,1233.9 L979.7,1239.9 L980.0,1242.5 L980.4,1245.9 L981.0,1251.9 L981.8,1257.9 L982.6,1263.9 L983.4,1269.8 L984.4,1275.8 L985.4,1281.7 L986.5,1287.6 L987.5,1292.5 L987.7,1293.5 L989.1,1299.4 L990.7,1305.4 L992.6,1311.3 L994.7,1316.9 L997.3,1322.1 L997.5,1322.5 L1000.6,1327.2 L1005.0,1332.1 L1009.9,1335.0 L1010.0,1335.0 L1015.3,1336.1 L1021.5,1337.0 L1027.7,1337.5 L1030.0,1337.5 L1033.8,1337.3 L1039.9,1336.6 L1045.9,1336.0 L1047.5,1336.0 L1051.5,1336.9 L1056.9,1340.2 L1060.0,1342.5 L1061.7,1343.8 L1065.7,1348.2 L1069.4,1353.0 L1073.2,1357.9 L1075.0,1360.0 L1077.2,1362.5 L1081.3,1367.2 L1085.5,1371.6 L1090.0,1375.0 L1090.1,1375.1 L1095.4,1377.8 L1101.1,1380.1 L1105.0,1381.0 L1107.0,1381.3 L1112.8,1382.2 L1118.9,1382.8 L1125.0,1383.0" stroke="#00e878" stroke-width="3.3"/>
<path class="c" d="M351.0,266.0 L357.0,266.0 L363.0,266.0 L369.1,266.0 L375.1,266.1 L381.1,266.1 L387.1,266.1 L393.1,266.2 L399.1,266.2 L405.1,266.3 L411.1,266.4 L417.1,266.5 L420.0,266.5 L423.1,266.6 L429.1,267.0 L435.0,267.5 L441.0,268.2 L447.0,269.0 L453.0,269.8 L455.0,270.0 L458.9,270.5 L464.9,271.3 L470.8,272.1 L476.8,273.0 L482.7,273.9 L488.6,274.8 L494.6,275.8 L500.5,276.8 L505.0,277.5 L506.4,277.7 L512.4,278.7 L518.3,279.7 L524.2,280.7 L530.1,281.8 L536.0,282.8 L542.0,283.9 L542.5,284.0 L547.8,285.2 L553.7,286.7 L559.6,288.1 L565.5,288.9 L567.5,289.0 L571.4,289.1 L577.4,289.1 L583.4,289.2 L589.4,289.2 L595.4,289.3 L601.4,289.3 L607.5,289.3 L613.5,289.4 L619.5,289.4 L625.6,289.5 L630.0,289.5 L631.6,289.5 L637.6,289.6 L643.6,289.7 L649.6,289.8 L655.6,290.0 L661.6,290.1 L667.6,290.3 L673.6,290.4 L679.6,290.5 L685.6,290.7 L691.6,290.8 L697.6,290.9 L703.6,291.0 L705.0,291.0 L709.6,291.0 L715.7,291.1 L721.7,291.1 L727.7,291.2 L733.7,291.2 L739.7,291.2 L745.7,291.3 L751.7,291.3 L757.7,291.4 L763.7,291.4 L767.5,291.5 L769.7,291.5 L775.7,291.8 L781.8,292.2 L787.8,292.8 L793.8,293.5 L799.7,294.2 L805.0,295.0 L805.6,295.1 L811.4,296.3 L817.2,298.0 L823.0,300.1 L828.6,302.3 L832.5,304.0 L834.0,304.7 L839.5,307.3 L844.8,310.3 L849.9,313.6 L854.6,317.2 L855.0,317.5 L859.0,321.1 L863.1,325.5 L867.0,330.2 L870.7,335.0 L872.5,337.5 L874.2,339.9 L877.6,344.9 L880.8,350.0 L883.8,355.2 L886.6,360.6 L887.5,362.5 L889.1,366.0 L891.4,371.5 L893.6,377.1 L895.7,382.7 L897.7,388.4 L899.7,394.1 L900.0,395.0 L901.6,399.8 L903.5,405.5 L905.3,411.2 L907.1,417.0 L908.7,422.8 L910.0,427.5 L910.3,428.6 L911.8,434.4 L913.2,440.2 L914.5,446.1 L915.8,451.9 L917.0,457.8 L917.5,460.0 L918.3,463.7 L919.4,469.6 L920.6,475.5 L921.7,481.4 L922.8,487.3 L923.8,493.2 L924.9,499.1 L925.0,500.0 L925.9,505.1 L926.9,511.0 L927.8,516.9 L928.8,522.9 L929.7,528.8 L930.6,534.7 L931.0,537.5 L931.5,540.7 L932.3,546.6 L933.1,552.6 L933.9,558.5 L934.7,564.5 L935.4,570.5 L936.0,575.0 L936.2,576.4 L936.9,582.4 L937.5,588.3 L938.2,594.3 L938.9,600.3 L939.5,606.3 L940.0,610.0 L940.3,612.2 L941.1,618.2 L941.9,624.1 L942.8,630.1 L943.5,636.0 L944.0,640.0 L944.2,642.0 L944.9,648.0 L945.5,653.9 L946.1,659.9 L946.7,665.9 L947.2,671.9 L947.8,677.9 L948.3,683.9 L948.8,689.8 L949.3,695.8 L949.8,701.8 L950.0,705.0 L950.2,707.8 L950.7,713.8 L951.1,719.8 L951.5,725.8 L951.9,731.8 L952.3,737.8 L952.7,743.8 L953.1,749.8 L953.4,755.8 L953.8,761.8 L954.2,767.8 L954.6,773.7 L955.0,779.7 L955.0,780.0 L955.4,785.7 L955.8,791.7 L956.2,797.7 L956.6,803.7 L957.0,809.7 L957.4,815.7 L957.8,821.7 L958.2,827.7 L958.6,833.7 L959.0,839.7 L959.4,845.7 L959.8,851.7 L960.0,855.0 L960.2,857.7 L960.6,863.7 L961.0,869.7 L961.4,875.6 L961.8,881.6 L962.2,887.6 L962.6,893.6 L963.0,899.6 L963.4,905.6 L963.8,911.6 L964.2,917.6 L964.6,923.6 L965.0,929.6 L965.0,930.0 L965.4,935.6 L965.7,941.6 L966.1,947.6 L966.5,953.6 L966.9,959.6 L967.2,965.6 L967.6,971.6 L968.0,977.6 L968.4,983.6 L968.8,989.6 L969.0,992.5 L969.2,995.5 L969.6,1001.5 L970.1,1007.5 L970.5,1013.5 L971.0,1019.5 L971.5,1025.5 L971.9,1031.5 L972.3,1037.5 L972.5,1040.0 L972.7,1043.5 L973.1,1049.5 L973.4,1055.5 L973.8,1061.5 L974.1,1067.5 L974.5,1073.5 L975.0,1079.5 L975.0,1080.0 L975.4,1085.4 L976.0,1091.4 L976.6,1097.4 L977.2,1103.4 L977.8,1109.3 L978.5,1115.3 L979.1,1121.3 L979.7,1127.3 L980.0,1130.0 L980.3,1133.3 L980.9,1139.2 L981.4,1145.2 L982.0,1151.2 L982.6,1157.2 L983.2,1163.2 L983.9,1169.1 L984.0,1170.0 L984.7,1175.1 L985.5,1181.0 L986.5,1187.0 L987.5,1192.9 L988.7,1198.8 L989.9,1204.7 L990.0,1205.0 L991.3,1210.5 L992.9,1216.3 L994.6,1222.1 L996.5,1227.8 L998.5,1233.5 L1000.0,1237.5 L1000.6,1239.1 L1003.0,1244.5 L1005.6,1250.0 L1008.4,1255.3 L1011.2,1260.6 L1014.1,1265.9 L1015.0,1267.5 L1017.0,1271.2 L1020.1,1276.4 L1023.1,1281.5 L1026.3,1286.6 L1029.5,1291.7 L1030.0,1292.5 L1032.7,1296.8 L1035.9,1301.9 L1039.3,1306.9 L1042.7,1311.8 L1045.0,1315.0 L1046.3,1316.6 L1050.0,1321.3 L1054.0,1325.9 L1058.0,1330.3 L1060.0,1332.5 L1062.1,1334.7 L1066.3,1339.0 L1070.6,1343.2 L1074.9,1347.4 L1075.0,1347.5 L1079.1,1351.7 L1083.3,1356.0 L1087.6,1360.2 L1090.0,1362.5 L1091.9,1364.4 L1096.3,1368.6 L1100.7,1372.7 L1105.0,1376.0 L1105.4,1376.3 L1110.5,1379.4 L1116.0,1382.0" stroke="#ff0000" stroke-width="4.6"/>
<path class="c" d="M351.0,266.0 L357.0,266.0 L363.0,266.0 L369.0,266.0 L375.0,266.1 L381.0,266.1 L387.0,266.2 L393.0,266.2 L399.0,266.3 L400.0,266.3 L405.0,266.4 L411.1,266.6 L417.1,266.8 L423.1,267.1 L429.0,267.4 L430.0,267.5 L435.0,267.9 L441.0,268.5 L447.0,269.3 L452.9,270.3 L458.8,271.4 L464.8,272.6 L470.6,273.9 L476.5,275.2 L480.0,276.0 L482.3,276.6 L488.0,278.2 L493.7,280.0 L499.4,282.0 L505.1,284.1 L510.7,286.3 L516.3,288.5 L517.5,289.0 L521.9,290.8 L527.3,293.3 L532.8,295.8 L538.3,298.3 L543.8,300.6 L545.0,301.0 L549.4,302.7 L555.1,305.0 L560.8,307.0 L566.6,308.5 L570.0,309.0 L572.5,309.2 L578.4,309.7 L584.4,310.0 L590.4,310.3 L596.4,310.6 L602.5,310.9 L605.0,311.0 L608.5,311.2 L614.5,311.6 L620.5,311.9 L626.5,312.3 L632.5,312.6 L638.4,313.0 L644.4,313.3 L650.4,313.7 L655.0,314.0 L656.4,314.1 L662.4,314.5 L668.4,314.9 L674.4,315.3 L680.4,315.7 L686.4,316.2 L692.4,316.6 L698.4,317.0 L704.4,317.5 L705.0,317.5 L710.3,317.9 L716.3,318.3 L722.3,318.7 L728.3,319.1 L734.3,319.5 L740.3,319.9 L746.3,320.3 L752.3,320.8 L755.0,321.0 L758.3,321.3 L764.2,321.7 L770.2,322.2 L776.2,322.7 L782.2,323.3 L788.2,323.8 L790.0,324.0 L794.2,324.4 L800.2,324.9 L806.2,325.5 L812.1,326.1 L818.1,326.9 L822.5,327.5 L824.0,327.7 L829.9,328.9 L835.8,330.3 L841.6,332.0 L847.2,333.9 L847.5,334.0 L852.7,336.2 L858.2,339.0 L863.4,342.1 L867.5,345.0 L868.2,345.5 L872.8,349.3 L877.2,353.6 L881.2,358.2 L882.5,360.0 L884.5,363.0 L887.7,368.1 L890.5,373.6 L893.0,379.2 L894.9,384.8 L895.0,385.0 L896.5,390.5 L897.8,396.3 L899.0,402.2 L900.0,408.2 L901.0,414.1 L902.1,420.1 L902.5,422.5 L903.1,426.0 L904.2,431.9 L905.3,437.8 L906.3,443.7 L907.3,449.7 L908.3,455.6 L909.0,460.0 L909.2,461.5 L910.2,467.4 L911.1,473.4 L912.0,479.3 L912.9,485.3 L913.7,491.2 L914.6,497.1 L915.0,500.0 L915.4,503.1 L916.3,509.0 L917.1,515.0 L917.9,520.9 L918.7,526.9 L919.4,532.9 L920.0,537.5 L920.2,538.8 L920.8,544.8 L921.5,550.8 L922.1,556.7 L922.7,562.7 L923.3,568.7 L924.0,574.6 L924.0,575.0 L924.6,580.6 L925.3,586.6 L926.0,592.5 L926.7,598.5 L927.4,604.5 L927.5,605.0 L928.1,610.4 L928.8,616.4 L929.5,622.4 L930.2,628.3 L930.8,634.3 L931.5,640.0 L931.5,640.3 L932.2,646.2 L933.0,652.2 L933.7,658.2 L934.4,664.1 L935.2,670.1 L935.9,676.0 L936.6,682.0 L937.3,688.0 L938.0,693.9 L938.5,699.9 L939.0,705.0 L939.1,705.9 L939.6,711.9 L940.0,717.9 L940.5,723.8 L940.9,729.8 L941.3,735.8 L941.6,741.8 L942.0,747.8 L942.4,753.8 L942.7,759.8 L943.1,765.8 L943.5,771.8 L943.9,777.8 L944.0,780.0 L944.3,783.8 L944.7,789.8 L945.1,795.8 L945.5,801.8 L945.8,807.7 L946.2,813.7 L946.6,819.7 L947.0,825.7 L947.4,831.7 L947.8,837.7 L948.2,843.7 L948.6,849.7 L949.0,855.0 L949.0,855.7 L949.4,861.7 L949.8,867.7 L950.2,873.7 L950.6,879.7 L951.0,885.6 L951.4,891.6 L951.8,897.6 L952.2,903.6 L952.6,909.6 L953.0,915.6 L953.4,921.6 L953.8,927.6 L954.0,930.0 L954.3,933.6 L954.7,939.6 L955.2,945.5 L955.7,951.5 L956.1,957.5 L956.6,963.5 L957.1,969.5 L957.6,975.5 L958.1,981.5 L958.6,987.4 L959.0,992.5 L959.1,993.4 L959.6,999.4 L960.1,1005.4 L960.6,1011.4 L961.1,1017.4 L961.6,1023.4 L962.0,1029.3 L962.5,1035.0 L962.5,1035.3 L963.0,1041.3 L963.4,1047.3 L963.9,1053.3 L964.3,1059.3 L964.8,1065.3 L965.3,1071.3 L965.8,1077.2 L966.0,1080.0 L966.3,1083.2 L966.8,1089.2 L967.4,1095.2 L968.0,1101.1 L968.6,1107.1 L969.2,1113.1 L969.9,1119.1 L970.5,1125.0 L971.0,1130.0 L971.1,1131.0 L971.7,1137.0 L972.3,1143.0 L972.9,1148.9 L973.5,1154.9 L974.2,1160.9 L974.9,1166.8 L975.0,1167.5 L975.7,1172.8 L976.5,1178.8 L977.4,1184.7 L978.3,1190.7 L979.3,1196.6 L980.5,1202.5 L981.0,1205.0 L981.7,1208.3 L983.2,1214.1 L984.9,1219.9 L986.7,1225.7 L988.7,1231.4 L990.0,1235.0 L990.8,1236.9 L993.2,1242.4 L995.8,1247.8 L998.6,1253.2 L1001.6,1258.4 L1002.5,1260.0 L1004.6,1263.6 L1007.8,1268.6 L1011.2,1273.6 L1014.7,1278.6 L1017.5,1282.5 L1018.2,1283.4 L1021.8,1288.2 L1025.5,1293.0 L1029.2,1297.7 L1033.0,1302.4 L1035.0,1305.0 L1036.6,1307.1 L1040.1,1312.0 L1043.6,1316.9 L1047.3,1321.7 L1050.0,1325.0 L1051.1,1326.3 L1055.3,1330.5 L1059.7,1334.7 L1064.0,1338.9 L1065.0,1340.0 L1068.0,1343.4 L1071.9,1348.0 L1075.7,1352.6 L1079.6,1357.1 L1080.0,1357.5 L1083.7,1361.7 L1087.7,1366.4 L1092.1,1370.5 L1095.0,1372.5 L1096.9,1373.6 L1102.5,1376.2 L1108.4,1377.8 L1110.0,1377.9 L1114.2,1377.9 L1120.1,1377.9 L1125.9,1377.9 L1131.9,1377.9 L1137.9,1377.9 L1143.9,1377.9 L1149.9,1377.9 L1156.0,1377.9 L1162.0,1377.9 L1168.1,1377.9 L1174.2,1377.9 L1180.3,1377.9 L1186.3,1377.9 L1192.4,1377.9 L1198.4,1377.9 L1200.0,1377.9 L1204.4,1377.9 L1210.4,1377.9 L1216.4,1377.9 L1222.4,1377.9 L1228.4,1377.9 L1234.4,1377.9 L1240.5,1377.9 L1246.5,1377.9 L1252.5,1377.9 L1258.5,1377.9 L1264.5,1377.9 L1270.5,1377.9 L1276.5,1377.9 L1282.5,1377.9 L1288.5,1377.9 L1294.5,1377.9" stroke="#00ff00" stroke-width="4.6"/>
<path class="c" d="M382.5,266.0 L388.5,266.3 L394.5,266.8 L400.5,267.3 L406.5,267.9 L412.5,268.6 L418.4,269.4 L424.4,270.2 L430.0,271.0 L430.3,271.0 L436.2,272.0 L442.1,273.0 L448.0,274.2 L453.9,275.6 L459.8,277.0 L465.7,278.5 L471.5,280.0 L477.2,281.7 L480.0,282.5 L482.9,283.4 L488.6,285.3 L494.2,287.4 L499.8,289.7 L505.4,292.0 L510.9,294.5 L516.4,297.0 L517.5,297.5 L521.8,299.6 L527.1,302.4 L532.3,305.3 L537.5,308.3 L542.8,311.3 L545.0,312.5 L548.0,314.3 L553.2,317.6 L558.4,321.0 L563.7,323.9 L569.2,325.8 L570.0,326.0 L574.8,326.9 L580.7,327.6 L586.7,328.3 L592.8,328.8 L598.9,329.4 L604.9,330.0 L605.0,330.0 L610.9,330.7 L616.9,331.4 L622.8,332.1 L628.8,332.8 L634.8,333.5 L640.7,334.2 L646.7,335.0 L652.7,335.7 L655.0,336.0 L658.6,336.5 L664.6,337.2 L670.5,338.0 L676.5,338.8 L682.4,339.7 L688.4,340.4 L694.4,341.2 L700.3,342.0 L705.0,342.5 L706.3,342.6 L712.3,343.3 L718.2,344.0 L724.2,344.6 L730.2,345.2 L736.2,345.8 L742.1,346.4 L748.1,346.9 L754.1,347.4 L755.0,347.5 L760.1,347.9 L766.1,348.2 L772.1,348.6 L778.1,349.0 L784.1,349.4 L785.0,349.5 L790.1,350.0 L796.0,350.7 L802.0,351.4 L808.0,352.2 L810.0,352.5 L813.9,353.0 L819.9,353.8 L825.9,354.6 L831.8,355.5 L837.7,356.5 L840.0,357.0 L843.5,357.9 L849.3,359.7 L855.0,361.8 L860.0,364.0 L860.4,364.2 L865.8,366.9 L871.0,370.1 L875.9,373.7 L877.5,375.0 L880.3,377.6 L884.3,382.1 L888.0,387.0 L890.0,390.0 L891.2,392.0 L894.2,397.2 L897.0,402.6 L899.3,408.2 L900.0,410.0 L901.3,413.8 L903.0,419.5 L904.6,425.4 L906.0,431.2 L907.4,437.1 L907.5,437.5 L908.8,442.9 L910.1,448.8 L911.4,454.7 L912.7,460.5 L913.8,466.4 L914.0,467.5 L914.9,472.3 L915.9,478.3 L916.9,484.2 L917.8,490.1 L918.7,496.1 L919.6,502.0 L920.0,505.0 L920.4,508.0 L921.3,513.9 L922.0,519.9 L922.8,525.8 L923.6,531.8 L924.4,537.8 L925.0,542.5 L925.2,543.7 L926.0,549.7 L926.8,555.6 L927.5,561.6 L928.3,567.5 L929.1,573.5 L929.9,579.5 L930.0,580.0 L930.7,585.4 L931.5,591.4 L932.3,597.3 L933.1,603.3 L933.9,609.2 L934.7,615.2 L935.0,617.5 L935.5,621.1 L936.3,627.1 L937.1,633.1 L937.8,639.0 L938.5,645.0 L938.5,645.0 L939.1,651.0 L939.8,656.9 L940.3,662.9 L940.9,668.9 L941.5,674.9 L942.0,680.9 L942.5,686.9 L943.0,692.8 L943.5,698.8 L944.0,704.8 L944.0,705.0 L944.4,710.8 L944.9,716.8 L945.3,722.8 L945.7,728.8 L946.1,734.8 L946.5,740.8 L946.9,746.8 L947.3,752.8 L947.6,758.8 L948.0,764.8 L948.4,770.8 L948.8,776.8 L949.0,780.0 L949.2,782.8 L949.6,788.8 L950.0,794.8 L950.4,800.8 L950.7,806.8 L951.1,812.7 L951.5,818.7 L951.9,824.7 L952.3,830.7 L952.7,836.7 L953.1,842.7 L953.5,848.7 L954.0,854.7 L954.0,855.0 L954.4,860.7 L954.9,866.7 L955.4,872.7 L955.9,878.7 L956.4,884.7 L956.9,890.7 L957.4,896.6 L957.9,902.6 L958.4,908.6 L958.8,914.6 L959.3,920.6 L959.8,926.6 L960.0,930.0 L960.2,932.6 L960.6,938.6 L961.0,944.6 L961.4,950.6 L961.7,956.6 L962.1,962.6 L962.5,968.6 L962.8,974.6 L963.2,980.6 L963.6,986.6 L964.0,992.5 L964.0,992.5 L964.4,998.5 L964.9,1004.5 L965.3,1010.5 L965.7,1016.5 L966.2,1022.5 L966.6,1028.5 L967.1,1034.5 L967.5,1040.0 L967.5,1040.5 L968.0,1046.5 L968.4,1052.5 L968.9,1058.5 L969.4,1064.5 L969.8,1070.4 L970.3,1076.4 L970.7,1082.4 L971.2,1088.4 L971.7,1094.4 L972.1,1100.4 L972.5,1105.0 L972.6,1106.4 L973.1,1112.4 L973.5,1118.4 L973.9,1124.4 L974.4,1130.4 L974.8,1136.4 L975.3,1142.4 L975.7,1148.4 L976.2,1154.3 L976.8,1160.3 L977.4,1166.3 L977.5,1167.5 L978.0,1172.3 L978.7,1178.2 L979.5,1184.2 L980.3,1190.2 L981.2,1196.1 L982.2,1202.1 L983.2,1208.0 L984.3,1213.9 L985.0,1217.5 L985.4,1219.8 L986.7,1225.7 L988.0,1231.6 L989.5,1237.4 L991.1,1243.3 L992.9,1249.0 L994.8,1254.6 L995.0,1255.0 L997.1,1260.1 L999.7,1265.5 L1002.7,1270.7 L1005.8,1275.9 L1009.1,1281.0 L1010.0,1282.5 L1012.4,1286.0 L1015.9,1290.9 L1019.6,1295.7 L1023.3,1300.4 L1025.0,1302.5 L1027.1,1305.1 L1031.0,1309.6 L1034.9,1314.2 L1038.9,1318.7 L1040.0,1320.0 L1042.8,1323.3 L1046.7,1327.8 L1050.6,1332.4 L1054.5,1336.9 L1055.0,1337.5 L1058.4,1341.5 L1062.3,1346.1 L1066.2,1350.7 L1070.0,1355.0 L1070.2,1355.2 L1074.2,1359.7 L1078.4,1364.1 L1082.8,1368.2 L1085.0,1370.0 L1087.5,1371.8 L1092.6,1375.2 L1097.5,1377.5 L1098.0,1377.7 L1103.7,1379.6 L1109.7,1380.9 L1112.0,1381.0 L1115.6,1381.0 L1121.5,1381.0 L1127.4,1381.0 L1133.3,1381.0 L1139.2,1381.0 L1145.1,1381.0 L1151.0,1381.0 L1157.0,1381.0 L1162.9,1381.0 L1168.8,1381.0 L1174.7,1381.0 L1180.7,1381.0 L1186.6,1381.0 L1192.6,1381.0 L1198.5,1381.0 L1204.5,1381.0 L1210.5,1381.0 L1216.4,1381.0 L1222.4,1381.0 L1228.4,1381.0 L1234.4,1381.0 L1240.4,1381.0 L1246.4,1381.0 L1252.4,1381.0 L1258.4,1381.0 L1264.4,1381.0 L1270.5,1381.0 L1276.5,1381.0 L1282.5,1381.0 L1288.6,1381.0 L1294.6,1381.0 L1300.7,1381.0 L1306.8,1381.0 L1312.9,1381.0 L1319.0,1381.0 L1325.1,1381.0 L1331.2,1381.0 L1337.3,1381.0 L1343.4,1381.0 L1349.5,1381.0 L1355.7,1381.0 L1361.8,1381.0 L1368.0,1381.0" stroke="#00c4d0" stroke-width="4.6"/>
<path class="c" d="M352.0,266.0 L358.0,266.1 L364.0,266.2 L365.0,266.2 L370.0,266.3 L376.1,266.4 L380.0,266.5 L382.1,266.6 L388.1,267.1 L394.1,268.0 L400.0,269.0 L405.0,270.0 L405.9,270.2 L411.7,271.5 L417.6,273.2 L423.4,275.1 L429.0,277.3 L434.4,279.7 L435.0,280.0 L439.6,282.6 L444.6,286.0 L449.3,289.9 L453.8,293.9 L455.0,295.0 L458.1,298.1 L462.3,302.5 L466.2,307.2 L469.7,312.0 L470.0,312.5 L472.8,317.1 L475.7,322.4 L478.3,327.8 L480.8,333.4 L482.5,337.5 L483.1,338.9 L485.2,344.5 L487.1,350.2 L489.0,356.0 L490.7,361.7 L492.5,367.5 L492.5,367.5 L494.3,373.2 L496.0,379.0 L497.7,384.8 L499.4,390.6 L500.9,396.4 L502.4,402.2 L502.5,402.5 L503.8,408.0 L505.2,413.9 L506.4,419.8 L507.7,425.7 L508.8,431.6 L510.0,437.5 L510.0,437.5 L511.1,443.4 L512.2,449.3 L513.2,455.2 L514.3,461.2 L515.3,467.1 L516.3,473.0 L517.3,479.0 L517.5,480.0 L518.4,484.9 L519.5,490.8 L520.5,496.7 L521.6,502.6 L522.7,508.5 L523.7,514.5 L524.7,520.4 L525.0,522.5 L525.6,526.4 L526.4,532.3 L527.2,538.3 L528.0,544.2 L528.8,550.2 L529.5,556.2 L530.0,560.0 L530.3,562.1 L531.1,568.1 L531.9,574.1 L532.6,580.0 L533.4,586.0 L534.1,592.0 L534.8,598.0 L535.0,600.0 L535.4,603.9 L535.9,609.9 L536.5,615.9 L537.0,621.9 L537.4,627.9 L538.0,633.9 L538.5,639.9 L538.5,640.0 L539.1,645.9 L539.6,651.9 L540.2,657.9 L540.9,663.8 L541.5,669.8 L542.1,675.8 L542.5,680.0 L542.7,681.8 L543.3,687.8 L543.9,693.8 L544.5,699.7 L545.1,705.7 L545.7,711.7 L546.3,717.7 L546.9,723.7 L547.5,729.7 L547.5,730.0 L548.0,735.7 L548.6,741.7 L549.1,747.6 L549.6,753.6 L550.1,759.6 L550.6,765.6 L551.0,770.0 L551.1,771.6 L551.6,777.6 L552.2,783.6 L552.7,789.6 L553.2,795.6 L553.7,801.6 L554.1,807.6 L554.6,813.6 L555.0,819.6 L555.0,820.0 L555.3,825.6 L555.7,831.6 L556.0,837.6 L556.3,843.6 L556.6,849.6 L556.9,855.6 L557.2,861.6 L557.5,867.5 L557.5,867.6 L557.9,873.7 L558.3,879.7 L558.6,885.7 L559.1,891.7 L559.5,897.7 L559.9,903.7 L560.0,905.0 L560.3,909.7 L560.8,915.7 L561.3,921.7 L561.8,927.6 L562.3,933.6 L562.8,939.6 L563.3,945.6 L563.8,951.6 L564.0,955.0 L564.2,957.6 L564.6,963.6 L565.0,969.6 L565.4,975.6 L565.8,981.6 L566.2,987.6 L566.5,993.6 L566.9,999.6 L567.3,1005.7 L567.5,1010.0 L567.6,1011.7 L567.9,1017.7 L568.2,1023.7 L568.6,1029.7 L568.9,1035.7 L569.1,1041.7 L569.4,1047.7 L569.5,1050.0 L569.6,1053.7 L569.9,1059.7 L570.1,1065.7 L570.2,1071.8 L570.4,1077.8 L570.6,1083.8 L570.8,1089.8 L571.0,1095.8 L571.2,1101.8 L571.3,1105.0 L571.4,1107.8 L571.7,1113.8 L571.9,1119.8 L572.2,1125.8 L572.5,1131.9 L572.8,1137.9 L573.1,1143.9 L573.4,1149.9 L573.7,1155.9 L574.1,1161.9 L574.4,1167.9 L574.7,1173.9 L575.0,1179.9 L575.0,1180.0 L575.3,1185.9 L575.6,1191.9 L575.9,1197.9 L576.2,1203.9 L576.5,1210.0 L576.8,1216.0 L577.1,1222.0 L577.4,1228.0 L577.7,1234.0 L578.0,1240.0 L578.3,1246.0 L578.7,1252.0 L578.8,1255.0 L579.0,1258.0 L579.2,1264.0 L579.5,1270.0 L579.8,1276.0 L580.1,1282.0 L580.4,1288.1 L580.7,1294.1 L581.0,1300.1 L581.3,1306.1 L581.6,1312.1 L581.9,1318.1 L582.2,1324.1 L582.5,1330.0 L582.5,1330.1 L582.8,1336.1 L583.0,1342.2 L583.2,1348.2 L583.4,1354.3 L583.7,1360.3 L584.0,1366.3 L584.5,1372.2 L585.0,1378.0 L585.0,1378.2 L586.5,1384.0" stroke="#e440ee" stroke-width="4.5"/>
<path class="c" d="M405.0,266.0 L411.0,266.0 L417.0,266.1 L423.0,266.1 L429.1,266.1 L435.1,266.1 L441.1,266.2 L447.1,266.2 L450.0,266.2 L453.1,266.2 L459.1,266.2 L465.2,266.3 L471.2,266.3 L477.2,266.3 L483.2,266.3 L489.2,266.3 L495.2,266.4 L501.3,266.4 L507.3,266.4 L513.3,266.4 L519.3,266.4 L525.3,266.5 L531.3,266.5 L537.4,266.5 L543.4,266.5 L549.4,266.6 L555.0,266.6 L555.4,266.6 L561.4,266.6 L567.4,266.7 L573.4,266.7 L579.5,266.7 L585.5,266.8 L591.5,266.8 L597.5,266.8 L603.5,266.9 L609.5,266.9 L615.6,267.0 L621.6,267.0 L627.6,267.0 L633.6,267.1 L639.6,267.1 L645.6,267.2 L651.7,267.2 L657.7,267.3 L663.7,267.3 L669.7,267.4 L675.7,267.5 L681.7,267.5 L687.7,267.6 L693.8,267.7 L699.8,267.7 L705.0,267.8 L705.8,267.8 L711.8,267.9 L717.8,268.0 L723.8,268.1 L729.9,268.3 L735.9,268.4 L741.9,268.5 L747.9,268.7 L753.9,268.8 L759.9,269.0 L760.0,269.0 L765.9,269.1 L772.0,269.3 L778.0,269.4 L784.0,269.6 L790.0,269.8 L790.0,269.8 L796.0,270.3 L802.0,271.0 L808.0,272.0 L813.9,273.2 L817.5,274.0 L819.7,274.5 L825.4,276.3 L831.0,278.6 L836.6,281.1 L842.0,283.7 L842.5,284.0 L847.2,286.6 L852.3,289.7 L857.4,293.2 L862.2,296.8 L866.9,300.5 L867.5,301.0 L871.5,304.4 L875.9,308.5 L880.2,312.8 L884.3,317.2 L888.2,321.8 L890.0,324.0 L891.9,326.5 L895.4,331.4 L898.8,336.4 L901.9,341.6 L904.7,346.9 L905.0,347.5 L907.2,352.3 L909.6,357.8 L911.8,363.5 L913.8,369.2 L915.8,374.9 L917.5,380.0 L917.7,380.6 L919.5,386.3 L921.3,392.1 L923.0,397.8 L924.7,403.6 L926.2,409.5 L927.5,415.0 L927.6,415.3 L928.8,421.2 L930.0,427.1 L931.2,433.0 L932.2,438.9 L933.3,444.8 L934.3,450.8 L935.0,455.0 L935.3,456.7 L936.3,462.6 L937.3,468.6 L938.2,474.5 L939.2,480.5 L940.1,486.4 L941.0,492.4 L941.0,492.5 L941.8,498.3 L942.7,504.3 L943.5,510.2 L944.3,516.2 L945.0,522.2 L945.8,528.1 L946.0,530.0 L946.5,534.1 L947.2,540.1 L947.8,546.1 L948.4,552.0 L949.0,558.0 L949.7,564.0 L950.0,567.5 L950.3,570.0 L950.9,576.0 L951.5,582.0 L952.1,588.0 L952.6,594.0 L953.1,599.9 L953.5,605.0 L953.6,605.9 L954.0,611.9 L954.3,618.0 L954.6,624.0 L954.9,630.0 L955.3,636.0 L955.5,640.0 L955.6,642.0 L956.0,648.0 L956.4,654.0 L956.8,660.0 L957.2,666.0 L957.7,672.0 L958.1,678.0 L958.5,684.0 L959.0,690.0 L959.4,696.0 L959.8,702.0 L960.0,705.0 L960.2,708.0 L960.6,714.0 L961.0,720.0 L961.4,726.0 L961.8,732.0 L962.2,738.0 L962.6,744.0 L962.9,750.0 L963.3,756.0 L963.7,762.0 L964.2,768.0 L964.6,774.0 L965.0,780.0 L965.0,780.0 L965.4,786.0 L965.9,792.0 L966.4,798.0 L966.9,804.0 L967.3,810.0 L967.8,816.0 L968.3,822.0 L968.8,828.0 L969.3,834.0 L969.8,840.0 L970.0,842.5 L970.3,846.0 L970.8,852.0 L971.3,858.0 L971.8,864.0 L972.2,870.0 L972.7,876.0 L973.2,882.0 L973.7,888.0 L974.2,894.0 L974.6,900.0 L975.0,905.0 L975.1,906.0 L975.5,912.0 L975.9,918.0 L976.3,924.0 L976.8,930.0 L977.2,936.0 L977.6,942.0 L978.0,948.0 L978.4,954.0 L978.7,960.0 L979.1,966.0 L979.5,972.0 L979.9,978.0 L980.0,980.0 L980.2,984.0 L980.6,990.0 L980.9,996.0 L981.2,1002.0 L981.5,1008.0 L981.9,1014.0 L982.2,1020.1 L982.6,1026.1 L982.9,1032.1 L983.4,1038.1 L983.5,1040.0 L983.8,1044.1 L984.3,1050.0 L984.9,1056.0 L985.5,1062.0 L986.1,1068.0 L986.8,1074.0 L987.5,1080.0 L987.5,1080.0 L988.2,1085.9 L989.0,1091.9 L989.8,1097.9 L990.7,1103.8 L991.6,1109.8 L992.6,1115.7 L993.6,1121.6 L994.6,1127.6 L995.0,1130.0 L995.6,1133.5 L996.7,1139.4 L997.9,1145.3 L999.1,1151.2 L1000.4,1157.1 L1001.7,1163.0 L1003.1,1168.8 L1004.0,1172.5 L1004.5,1174.6 L1006.0,1180.5 L1007.6,1186.3 L1009.2,1192.1 L1011.0,1197.9 L1012.8,1203.6 L1014.7,1209.3 L1015.0,1210.0 L1016.9,1214.9 L1019.3,1220.4 L1021.8,1225.8 L1024.5,1231.3 L1027.1,1236.7 L1027.5,1237.5 L1029.7,1242.1 L1032.5,1247.5 L1035.2,1252.8 L1037.9,1258.2 L1040.0,1262.5 L1040.5,1263.6 L1043.1,1269.1 L1045.6,1274.5 L1048.0,1280.0 L1050.5,1285.5 L1052.5,1290.0 L1053.0,1291.0 L1055.4,1296.5 L1057.9,1302.0 L1060.4,1307.4 L1062.9,1312.9 L1065.0,1317.5 L1065.4,1318.4 L1067.8,1323.9 L1070.2,1329.5 L1072.6,1335.0 L1075.2,1340.4 L1077.5,1345.0 L1077.9,1345.7 L1080.8,1351.1 L1083.8,1356.4 L1087.2,1361.4 L1090.0,1365.0 L1090.9,1366.0 L1095.1,1370.2 L1099.9,1374.2 L1104.9,1377.4 L1105.0,1377.5 L1110.2,1380.0 L1116.0,1382.0" stroke="#000000" stroke-width="4.4"/>
<g fill="none">
<path d="M322.5,1387 H1628.6" stroke="#8a8a8a" stroke-width="2.9"/>
<path d="M1623.7,199 V1384" stroke="#b4b4b4" stroke-width="3"/>
<path d="M322.5,1383.9 H572" stroke="#000" stroke-width="3.3"/>
<path d="M572,1383.9 H790" stroke="#a08c8c" stroke-width="3.3"/>
<path d="M572,1383.9 H790" stroke="#f06060" stroke-width="3.3" stroke-dasharray="3.1 6.3"/>
<path d="M790,1383.9 H1114" stroke="#e440ee" stroke-width="3.3"/>
<path d="M1114,1383.9 H1600" stroke="#a07ac6" stroke-width="3.3"/>
<path d="M1600,1383.9 H1626" stroke="#000" stroke-width="3.3"/>
<path d="M590,1380.8 H800" stroke="#00e090" stroke-width="3.2"/>
<path d="M1368,1380.6 H1412" stroke="#00e000" stroke-width="3.2"/>
<path d="M1412,1380.6 H1530" stroke="#003018" stroke-width="3.2"/>
<path d="M1530,1380.6 H1570" stroke="#a0d8f0" stroke-width="3.2"/>
<path d="M1570,1380.6 H1625" stroke="#00e000" stroke-width="3.2"/>
</g>
<g stroke="#000" stroke-width="3.3" fill="none" stroke-linecap="butt">
<path d="M348.8,1385.5 L348.8,197.5 L1626.9,197.5 L1626.9,1410.9"/>
</g>
<path d="M335.8,1272.0 H348.8 M322.8,1160.0 H348.8 M335.8,1048.1 H348.8 M322.8,936.2 H348.8 M335.8,824.3 H348.8 M322.8,712.3 H348.8 M335.8,600.4 H348.8 M322.8,488.5 H348.8 M335.8,376.5 H348.8 M322.8,264.6 H348.8 M398.0,1385.5 V1398.2 M479.9,1385.5 V1410.7 M561.8,1385.5 V1398.2 M643.7,1385.5 V1410.7 M725.7,1385.5 V1398.2 M807.6,1385.5 V1410.7 M889.5,1385.5 V1398.2 M971.4,1385.5 V1410.7 M1053.3,1385.5 V1398.2 M1135.3,1385.5 V1410.7 M1217.2,1385.5 V1398.2 M1299.1,1385.5 V1410.7 M1381.0,1385.5 V1398.2 M1462.9,1385.5 V1410.7 M1544.9,1385.5 V1398.2 M1613.9,1265.2 H1626.9 M1600.9,1146.6 H1626.9 M1613.9,1028.0 H1626.9 M1600.9,909.3 H1626.9 M1613.9,790.7 H1626.9 M1600.9,672.0 H1626.9 M1613.9,553.4 H1626.9 M1600.9,434.7 H1626.9 M1613.9,316.0 H1626.9" stroke="#000" stroke-width="4.1" fill="none"/>
<text class="tk" transform="translate(308,1397.8) scale(1,1.045)" text-anchor="end">0</text>
<text class="tk" transform="translate(308,1173.9) scale(1,1.045)" text-anchor="end">20</text>
<text class="tk" transform="translate(308,950.1) scale(1,1.045)" text-anchor="end">40</text>
<text class="tk" transform="translate(308,726.2) scale(1,1.045)" text-anchor="end">60</text>
<text class="tk" transform="translate(308,502.4) scale(1,1.045)" text-anchor="end">80</text>
<text class="tk" transform="translate(308,278.5) scale(1,1.045)" text-anchor="end">100</text>
<text class="tk" transform="translate(480.1,1465) scale(1,1.045)" text-anchor="middle">100</text>
<text class="tk" transform="translate(643.9,1465) scale(1,1.045)" text-anchor="middle">200</text>
<text class="tk" transform="translate(807.8,1465) scale(1,1.045)" text-anchor="middle">300</text>
<text class="tk" transform="translate(971.6,1465) scale(1,1.045)" text-anchor="middle">400</text>
<text class="tk" transform="translate(1135.5,1465) scale(1,1.045)" text-anchor="middle">500</text>
<text class="tk" transform="translate(1299.3,1465) scale(1,1.045)" text-anchor="middle">600</text>
<text class="tk" transform="translate(1463.1,1465) scale(1,1.045)" text-anchor="middle">700</text>
<text class="tk" transform="translate(1627.0,1465) scale(1,1.045)" text-anchor="middle">800</text>
<text class="tk" transform="translate(1650.5,1397.8) scale(1,1.045)" text-anchor="start">0</text>
<text class="tk" transform="translate(1650.5,1160.5) scale(1,1.045)" text-anchor="start">1</text>
<text class="tk" transform="translate(1650.5,923.2) scale(1,1.045)" text-anchor="start">2</text>
<text class="tk" transform="translate(1650.5,685.9) scale(1,1.045)" text-anchor="start">3</text>
<text class="tk" transform="translate(1650.5,448.6) scale(1,1.045)" text-anchor="start">4</text>
<text class="tk" transform="translate(1650.5,211.3) scale(1,1.045)" text-anchor="start">5</text>
<text class="ti" x="989" y="1566.5" text-anchor="middle">Temperature (°C)</text>
<text class="ti" transform="translate(124.3,800) rotate(-90)" text-anchor="middle">Weight (%)</text>
<text class="ti" transform="translate(1758.3,831.7) rotate(-90)" text-anchor="middle">Deriv. Weight (%/°C)</text>
<path d="M1120,284 H1240.5" stroke="#000000" stroke-width="5" fill="none"/>
<text class="lg" x="1252.5" y="300.8">EVOH</text>
<path d="M1120,348.3 H1240.5" stroke="#ff0000" stroke-width="6" fill="none"/>
<text class="lg" x="1252.5" y="365.8">EVOH-MA3</text>
<path d="M1120,412.5 H1240.5" stroke="#00ff00" stroke-width="6" fill="none"/>
<text class="lg" x="1252.5" y="430">EVOH-MA5</text>
<path d="M1120,476.3 H1240.5" stroke="#00c4d0" stroke-width="6" fill="none"/>
<text class="lg" x="1252.5" y="494.2">EVOH-MA8</text>
<path d="M1120,541.3 H1240.5" stroke="#e440ee" stroke-width="3" fill="none"/>
<text class="lg" x="1252.5" y="558">MA</text>
</svg>
</body></html>
